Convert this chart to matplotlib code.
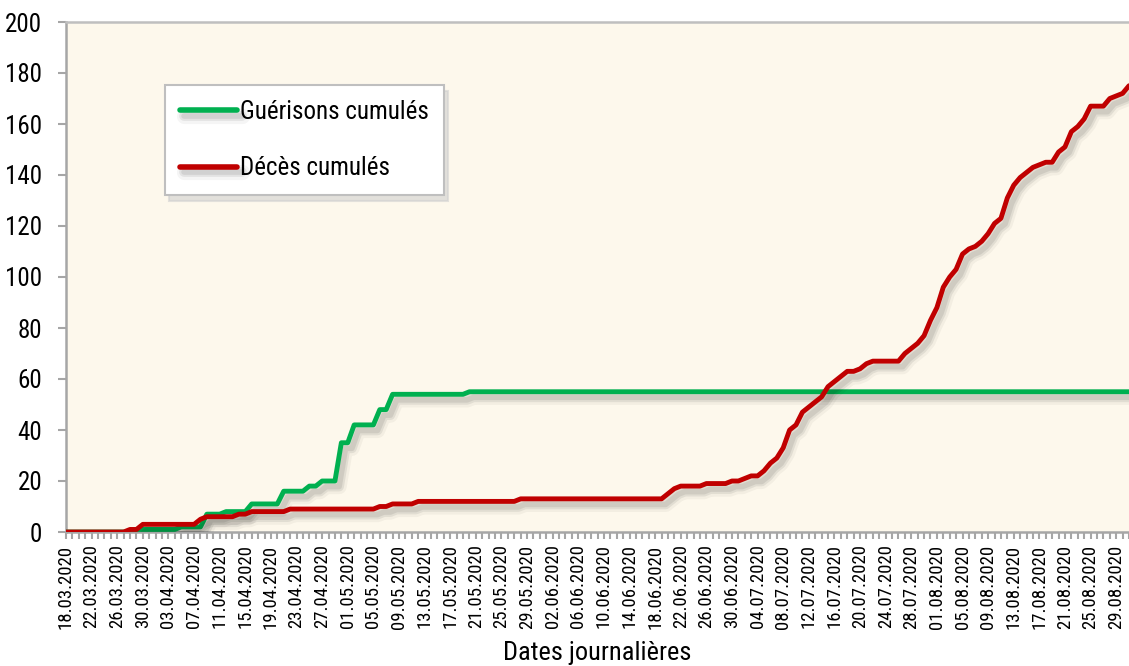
import matplotlib
matplotlib.use("Agg")
import matplotlib.pyplot as plt
import matplotlib.dates as mdates
import matplotlib.patheffects as pe
import pandas as pd

plt.rcParams['font.family'] = ['Roboto Condensed', 'Liberation Sans Narrow', 'DejaVu Sans']
plt.rcParams['font.stretch'] = 'condensed'

# ---- data ----
start_date = '2020-03-18'
end_date = '2020-08-31'
dates = pd.date_range(start_date, end_date, freq='D')

gueris = ([0] * 11 + [1] * 7 + [2] * 4 + [7] * 3 + [8] * 4 + [11] * 5 + [16] * 4
          + [18] * 2 + [20] * 3 + [35] * 2 + [42] * 4 + [48] * 2 + [54] * 12 + [55] * 104)

deces = ([0] * 10 + [1] * 2 + [3] * 9 + [5] + [6] * 5 + [7] * 2 + [8] * 6 + [9] * 14
         + [10] * 2 + [11] * 4 + [12] * 16 + [13] * 23 + [15] + [17] + [18] * 4 + [19] * 4
         + [20] * 2 + [21] + [22] * 2
         + [24, 27, 29, 33, 40, 42, 47, 49, 51, 53, 57, 59, 61, 63, 63, 64, 66, 67, 67, 67,
            67, 67, 70, 72, 74, 77, 83, 88, 96, 100, 103, 109, 111, 112, 114, 117, 121, 123,
            131, 136, 139, 141, 143, 144, 145, 145, 149, 151, 157, 159, 162, 167, 167, 167,
            170, 171, 172, 175])

label_gueris = 'Guérisons cumulés'
label_deces = 'Décès cumulés'
xlabel = 'Dates journalières'
yticks = list(range(0, 201, 20))

# ---- figure ----
fig = plt.figure(figsize=(11.29, 6.66), dpi=100)
ax = fig.add_axes([66 / 1129, 1 - 532 / 666, 1 - 66 / 1129, 510 / 666])
ax.set_facecolor('#FDF8EC')

shadow = [pe.SimpleLineShadow(offset=(3, -4), shadow_color='black', alpha=0.04, linewidth=11),
          pe.SimpleLineShadow(offset=(3, -4), shadow_color='black', alpha=0.07, linewidth=7),
          pe.SimpleLineShadow(offset=(3, -4), shadow_color='black', alpha=0.08, linewidth=4),
          pe.Normal()]

ax.plot(dates, gueris, color='#00B050', lw=3.5, solid_capstyle='round',
        label=label_gueris, path_effects=shadow, zorder=3)
ax.plot(dates, deces, color='#C00000', lw=3.5, solid_capstyle='round',
        label=label_deces, path_effects=shadow, zorder=4)

ax.set_xlim(dates[0], dates[-1])
ax.set_ylim(0, 200)
ax.set_yticks(yticks)
ax.set_xticks(dates[::4])
ax.xaxis.set_major_formatter(mdates.DateFormatter('%d.%m.%Y'))
ax.set_xticks(dates, minor=True)

for lab in ax.get_xticklabels():
    lab.set_rotation(90)

ax.tick_params(axis='x', which='both', length=5, width=1.5, color='#A6A6A6',
               labelsize=13.5, pad=4)
ax.tick_params(axis='y', length=6, width=1.5, color='#A6A6A6', labelsize=18, pad=11)

for s in ['left', 'bottom']:
    ax.spines[s].set_color('#A6A6A6')
    ax.spines[s].set_linewidth(1.8)
ax.spines['top'].set_color('#BFBFBF')
ax.spines['top'].set_linewidth(1.8)
ax.spines['right'].set_visible(False)

ax.set_xlabel(xlabel, fontsize=19, labelpad=9)

leg = ax.legend(loc='upper left', bbox_to_anchor=(0.0931, 0.8765), borderaxespad=0,
                fontsize=18, handlelength=2.3, handletextpad=0.1, labelspacing=1.3,
                borderpad=0.6, fancybox=False, framealpha=1, edgecolor='#BFBFBF',
                shadow={'color': '#D0D0D0', 'alpha': 0.6, 'ox': 3, 'oy': -4})
leg.get_frame().set_linewidth(1.5)
for l in leg.get_lines():
    l.set_linewidth(4)

fig.savefig('out.png', dpi=100)
